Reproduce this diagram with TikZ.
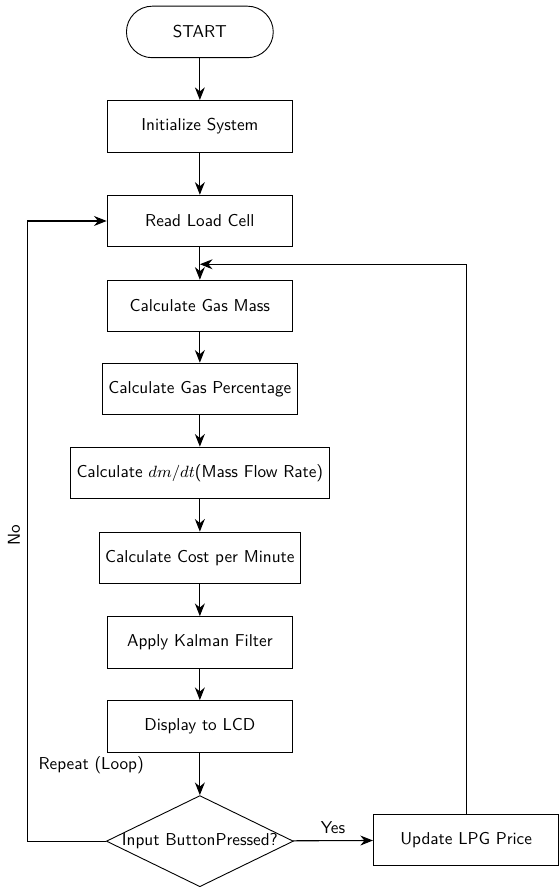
\documentclass[tikz,border=0pt]{standalone}
\usetikzlibrary{shapes.geometric,arrows.meta}
\begin{document}
\begin{tikzpicture}[font=\sffamily\fontsize{9.5}{11.5}\selectfont,
    proceso/.style={draw, rectangle, line width=0.5pt, minimum width=3.6cm, minimum height=1cm, align=center},
    inicio/.style={draw, rectangle, line width=0.5pt, rounded corners=0.5cm, minimum width=2.85cm, minimum height=1cm},
    decision/.style={draw, diamond, line width=0.5pt, minimum width=3.63cm, minimum height=1.77cm, inner sep=0pt},
    flecha/.style={-{Stealth[length=7pt,width=5.5pt]}, semithick}]
        % Marco de la figura
        \useasboundingbox (0,0) rectangle (10.84,-17.22);
        % Bloques del diagrama
        \node[inicio] (start) at (3.88,-0.62) {START};
        \node[proceso] (init) at (3.88,-2.45) {Initialize System};
        \node[proceso] (read) at (3.88,-4.29) {Read Load Cell};
        \node[proceso] (mass) at (3.88,-5.94) {Calculate Gas Mass};
        \node[proceso] (perc) at (3.88,-7.55) {Calculate Gas Percentage};
        \node[proceso] (flow) at (3.88,-9.18) {Calculate $dm/dt$(Mass Flow Rate)};
        \node[proceso] (cost) at (3.88,-10.83) {Calculate Cost per Minute};
        \node[proceso] (kalman) at (3.88,-12.47) {Apply Kalman Filter};
        \node[proceso] (lcd) at (3.88,-14.10) {Display to LCD};
        \node[decision] (button) at (3.88,-16.33) {\makebox[0pt]{Input ButtonPressed?}};
        \node[proceso] (price) at (9.05,-16.31) {Update LPG Price};
        % Textos sueltos
        \node (repeat) at (1.77,-14.85) {Repeat (Loop)};
        \node[rotate=90] (no) at (0.27,-10.39) {No};
        \coordinate (union) at (3.88,-5.13); % Punto de retorno
        % Flechas principales
        \draw[flecha] (start) -- (init);
        \draw[flecha] (init) -- (read);
        \draw[flecha] (read) -- (mass);
        \draw[flecha] (mass) -- (perc);
        \draw[flecha] (perc) -- (flow);
        \draw[flecha] (flow) -- (cost);
        \draw[flecha] (cost) -- (kalman);
        \draw[flecha] (kalman) -- (lcd);
        \draw[flecha] (lcd) -- (button);
        \draw[flecha] (button) -- node[above] {Yes} (price);
        % Lazos de retorno
        \draw[flecha] (button.west) -- ++(-1.53,0) |- (read.west);
        \draw[flecha] (price.north) |- (union);
    \end{tikzpicture}
\end{document}
